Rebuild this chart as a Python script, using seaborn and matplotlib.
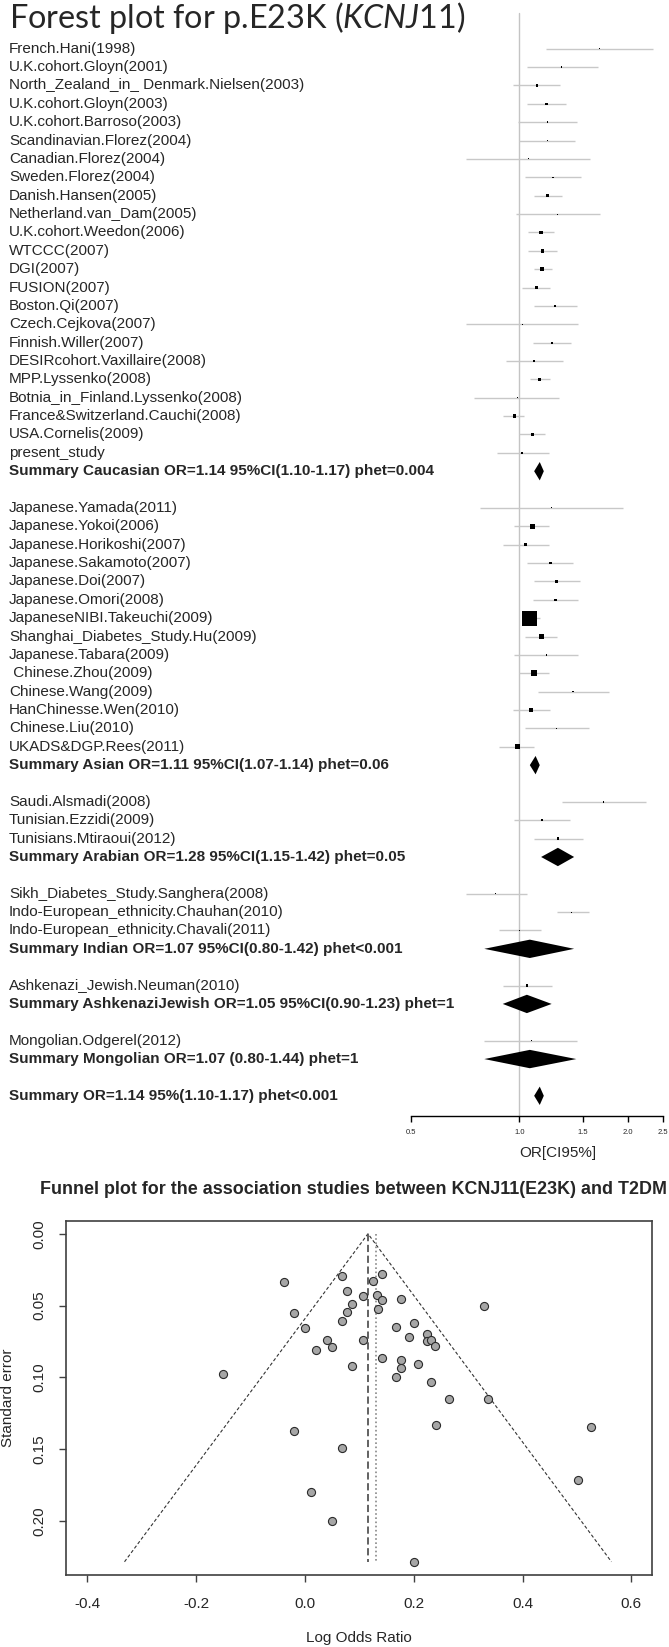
import matplotlib
matplotlib.use("Agg")
import matplotlib.pyplot as plt
import matplotlib.transforms as mtransforms
from matplotlib.ticker import NullLocator
import pandas as pd
import seaborn as sns

# ---------------- forest plot data ----------------
caucasian_names = ["French.Hani(1998)", "U.K.cohort.Gloyn(2001)", "North_Zealand_in_ Denmark.Nielsen(2003)",
                   "U.K.cohort.Gloyn(2003)", "U.K.cohort.Barroso(2003)", "Scandinavian.Florez(2004)",
                   "Canadian.Florez(2004)", "Sweden.Florez(2004)", "Danish.Hansen(2005)",
                   "Netherland.van_Dam(2005)", "U.K.cohort.Weedon(2006)", "WTCCC(2007)", "DGI(2007)",
                   "FUSION(2007)", "Boston.Qi(2007)", "Czech.Cejkova(2007)", "Finnish.Willer(2007)",
                   "DESIRcohort.Vaxillaire(2008)", "MPP.Lyssenko(2008)", "Botnia_in_Finland.Lyssenko(2008)",
                   "France&Switzerland.Cauchi(2008)", "USA.Cornelis(2009)", "present_study"]
caucasian_or = [1.67, 1.31, 1.12, 1.19, 1.20, 1.20, 1.06, 1.24, 1.20, 1.28, 1.15, 1.16, 1.16,
                1.12, 1.26, 1.02, 1.23, 1.10, 1.14, 0.99, 0.97, 1.09, 1.02]
caucasian_lo = [1.19, 1.05, 0.96, 1.05, 0.99, 1.00, 0.71, 1.04, 1.10, 0.98, 1.06, 1.06, 1.10,
                1.02, 1.10, 0.71, 1.09, 0.92, 1.07, 0.75, 0.90, 1.00, 0.87]
caucasian_hi = [2.35, 1.65, 1.30, 1.35, 1.45, 1.43, 1.57, 1.48, 1.31, 1.67, 1.25, 1.27, 1.23,
                1.22, 1.45, 1.46, 1.39, 1.32, 1.22, 1.29, 1.03, 1.18, 1.21]
caucasian_w = [2, 2, 6, 6, 2, 2, 1, 2, 9, 1, 12, 12, 16, 9, 4, 1, 4, 2, 12, 1, 12, 9, 4]

asian_names = ["Japanese.Yamada(2011)", "Japanese.Yokoi(2006)", "Japanese.Horikoshi(2007)",
               "Japanese.Sakamoto(2007)", "Japanese.Doi(2007)", "Japanese.Omori(2008)",
               "JapaneseNIBI.Takeuchi(2009)", "Shanghai_Diabetes_Study.Hu(2009)", "Japanese.Tabara(2009)",
               " Chinese.Zhou(2009)", "Chinese.Wang(2009)", "HanChinesse.Wen(2010)", "Chinese.Liu(2010)",
               "UKADS&DGP.Rees(2011)"]
asian_or = [1.23, 1.09, 1.04, 1.22, 1.27, 1.26, 1.07, 1.15, 1.19, 1.10, 1.41, 1.08, 1.27, 0.99]
asian_lo = [0.78, 0.97, 0.90, 1.05, 1.10, 1.09, 1.02, 1.04, 0.97, 1.00, 1.13, 0.96, 1.04, 0.88]
asian_hi = [1.94, 1.21, 1.21, 1.41, 1.47, 1.46, 1.14, 1.27, 1.46, 1.21, 1.77, 1.22, 1.56, 1.10]
asian_w = [1, 20, 9, 6, 6, 6, 225, 25, 2, 36, 2, 16, 2, 25]

arabian_names = ["Saudi.Alsmadi(2008)", "Tunisian.Ezzidi(2009)", "Tunisians.Mtiraoui(2012)"]
arabian_or = [1.71, 1.16, 1.28]
arabian_lo = [1.31, 0.97, 1.10]
arabian_hi = [2.24, 1.38, 1.50]
arabian_w = [2, 4, 6]

indian_names = ["Sikh_Diabetes_Study.Sanghera(2008)", "Indo-European_ethnicity.Chauhan(2010)",
                "Indo-European_ethnicity.Chavali(2011)"]
indian_or = [0.86, 1.40, 1.00]
indian_lo = [0.71, 1.27, 0.88]
indian_hi = [1.05, 1.56, 1.15]
indian_w = [1, 1, 1]

jewish_names = ["Ashkenazi_Jewish.Neuman(2010)"]
jewish_or = [1.05]
jewish_lo = [0.90]
jewish_hi = [1.23]
jewish_w = [6]

mongolian_names = ["Mongolian.Odgerel(2012)"]
mongolian_or = [1.08]
mongolian_lo = [0.80]
mongolian_hi = [1.45]
mongolian_w = [1]

summary_labels = ["Summary Caucasian OR=1.14 95%CI(1.10-1.17) phet=0.004",
                  "Summary Asian OR=1.11 95%CI(1.07-1.14) phet=0.06",
                  "Summary Arabian OR=1.28 95%CI(1.15-1.42) phet=0.05",
                  "Summary Indian OR=1.07 95%CI(0.80-1.42) phet<0.001",
                  "Summary AshkenaziJewish OR=1.05 95%CI(0.90-1.23) phet=1",
                  "Summary Mongolian OR=1.07 (0.80-1.44) phet=1"]
summary_or = [1.14, 1.11, 1.28, 1.07, 1.05, 1.07]
summary_lo = [1.10, 1.07, 1.15, 0.80, 0.90, 0.80]
summary_hi = [1.17, 1.14, 1.42, 1.42, 1.23, 1.44]
overall_label = "Summary OR=1.14 95%(1.10-1.17) phet<0.001"
overall_or, overall_lo, overall_hi = 1.14, 1.10, 1.17

or_ticks = [0.5, 1.0, 1.5, 2.0, 2.5]

# ---------------- funnel plot data ----------------
funnel_log_or = [-0.039, 0.069, 0.125, 0.141, 0.078, 0.106, 0.133, 0.141, 0.176, 0.087,
                 0.134, 0.330, -0.020, 0.078, 0.069, 0.001, 0.168, 0.200, 0.041, 0.106,
                 0.192, 0.224, 0.224, 0.231, 0.239, 0.020, 0.049, 0.141, 0.176, 0.176,
                 0.208, 0.087, -0.150, 0.167, 0.232, 0.264, 0.337, 0.241, 0.525, -0.020,
                 0.069, 0.502, 0.011, 0.049, 0.200]
funnel_se = [0.0333, 0.0296, 0.0328, 0.0277, 0.0395, 0.0432, 0.0423, 0.0464, 0.0453, 0.0490,
             0.0522, 0.0501, 0.0552, 0.0547, 0.0610, 0.0654, 0.0647, 0.0619, 0.0741, 0.0741,
             0.0721, 0.0695, 0.0748, 0.0741, 0.0778, 0.0808, 0.0785, 0.0866, 0.0882, 0.0935,
             0.0905, 0.0919, 0.0979, 0.0998, 0.1030, 0.1147, 0.1147, 0.1329, 0.1348, 0.1373,
             0.1493, 0.1717, 0.1798, 0.2001, 0.2283]
pooled_fixed = 0.116
pooled_random = 0.130
funnel_xticks = [-0.4, -0.2, 0.0, 0.2, 0.4, 0.6]
funnel_yticks = [0.00, 0.05, 0.10, 0.15, 0.20]

funnel_title = "Funnel plot for the association studies between KCNJ11(E23K) and T2DM"

# ---------------- build the forest table ----------------
groups = [
    (caucasian_names, caucasian_or, caucasian_lo, caucasian_hi, caucasian_w),
    (asian_names, asian_or, asian_lo, asian_hi, asian_w),
    (arabian_names, arabian_or, arabian_lo, arabian_hi, arabian_w),
    (indian_names, indian_or, indian_lo, indian_hi, indian_w),
    (jewish_names, jewish_or, jewish_lo, jewish_hi, jewish_w),
    (mongolian_names, mongolian_or, mongolian_lo, mongolian_hi, mongolian_w),
]

study_rows = []
summary_rows = []
row = 1
for (names, est, lo, hi, w), s_lab, s_or, s_lo, s_hi in zip(groups, summary_labels, summary_or,
                                                            summary_lo, summary_hi):
    for n, e, l, h, ww in zip(names, est, lo, hi, w):
        study_rows.append(dict(label=n, row=row, est=e, lo=l, hi=h, weight=ww))
        row += 1
    summary_rows.append(dict(label=s_lab, row=row, est=s_or, lo=s_lo, hi=s_hi))
    row += 2  # blank line between the groups
summary_rows.append(dict(label=overall_label, row=row, est=overall_or, lo=overall_lo, hi=overall_hi))

studies = pd.DataFrame(study_rows)
summaries = pd.DataFrame(summary_rows)

# ---------------- figure ----------------
sns.set_theme(style="white")
plt.rcParams['font.family'] = ['Liberation Sans', 'DejaVu Sans']
plt.rcParams['mathtext.fontset'] = 'custom'
plt.rcParams['mathtext.rm'] = 'Lato'
plt.rcParams['mathtext.it'] = 'Lato:italic'

W, H = 669, 1647
fig = plt.figure(figsize=(W / 100, H / 100), dpi=100)


def px_box(left, top, right, bottom):
    return [left / W, 1 - bottom / H, (right - left) / W, (bottom - top) / H]


def fit_width(txt, target_px):
    # scale the font so the text spans target_px pixels
    fig.canvas.draw()
    bb = txt.get_window_extent(fig.canvas.get_renderer())
    txt.set_fontsize(txt.get_fontsize() * target_px / bb.width)


# forest plot
row_h = 18.37
first_row = 48.7
ax = fig.add_axes(px_box(410.7, 0, 662.7, 1116))
ax.set_xscale('log')

ax.plot([1, 1], [-0.94, 60], color='#c4c4c4', lw=1, zorder=1)
ax.hlines(studies['row'], studies['lo'], studies['hi'], color='#c8c8c8', lw=1, zorder=2)
sns.scatterplot(data=studies, x='est', y='row', marker='s', s=studies['weight'] * 0.52,
                color='black', linewidth=0, ax=ax, zorder=3)
for _, r in summaries.iterrows():
    ax.fill([r['lo'], r['est'], r['hi'], r['est']],
            [r['row'], r['row'] - 0.5, r['row'], r['row'] + 0.5], color='black', lw=0, zorder=3)

ax.set_xlim(0.5, 2.5)
ax.set_ylim(1 + (1116 - first_row) / row_h, 1 - first_row / row_h)
ax.set_xlabel('')
ax.set_ylabel('')
ax.set_xticks(or_ticks, labels=[f"{t:.1f}" for t in or_ticks])
ax.xaxis.set_minor_locator(NullLocator())
ax.set_yticks([])
for side in ['top', 'left', 'right']:
    ax.spines[side].set_visible(False)
ax.spines['bottom'].set_bounds(0.5, 2.5)
ax.spines['bottom'].set_color('black')
ax.spines['bottom'].set_linewidth(1)
ax.tick_params(axis='x', direction='out', length=4, width=1, pad=5, labelsize=5.5,
               color='black', bottom=True)

trans = mtransforms.blended_transform_factory(fig.transFigure, ax.transData)
for _, r in studies.iterrows():
    ax.text(9 / W, r['row'], r['label'], transform=trans, ha='left', va='center', fontsize=11)
for _, r in summaries.iterrows():
    ax.text(9 / W, r['row'], r['label'], transform=trans, ha='left', va='center', fontsize=11,
            fontweight='bold')

fig.text(558 / W, 1 - 1153 / H, "OR[CI95%]", ha='center', va='center', fontsize=11)
forest_title = fig.text(9 / W, 1 - 28.5 / H, r"Forest plot for p.E23K ($\mathit{KCNJ11}$)",
                        ha='left', va='baseline', fontsize=23, family='Lato')

# funnel plot
bx = fig.add_axes(px_box(66, 1220.7, 652, 1575))
se_max = max(funnel_se)
bx.plot([pooled_fixed - 1.96 * se_max, pooled_fixed, pooled_fixed + 1.96 * se_max],
        [se_max, 0, se_max], ls=(0, (3, 2)), color='#333333', lw=0.8)
bx.plot([pooled_fixed, pooled_fixed], [0, se_max], ls=(0, (4, 2)), color='#555555', lw=1.3)
bx.plot([pooled_random, pooled_random], [0, se_max], ls=(0, (1, 1.5)), color='#888888', lw=1.2)
sns.scatterplot(x=funnel_log_or, y=funnel_se, ax=bx, s=34, color='#a6a6a6',
                edgecolor='#2b2b2b', linewidth=0.8, zorder=3)

bx.set_xlim(-0.439, 0.638)
bx.set_ylim(0.2375, -0.0091)
bx.set_xticks(funnel_xticks, labels=[f"{v:.1f}" for v in funnel_xticks])
bx.set_yticks(funnel_yticks, labels=[f"{v:.2f}" for v in funnel_yticks])
for lab in bx.get_yticklabels():
    lab.set_rotation(90)
    lab.set_va('center')
for side in bx.spines.values():
    side.set_visible(True)
    side.set_color('#404040')
    side.set_linewidth(1.2)
bx.tick_params(direction='out', length=5, width=1, labelsize=11, color='#404040',
               left=True, bottom=True)
bx.tick_params(axis='x', pad=11)
bx.tick_params(axis='y', pad=9)

funnel_head = fig.text(353 / W, 1 - 1189 / H, funnel_title, ha='center', va='center',
                       fontsize=12.8, fontweight='bold')
fig.text(359 / W, 1 - 1637.7 / H, "Log Odds Ratio", ha='center', va='center', fontsize=11)
fig.text(8.5 / W, 1 - 1398 / H, "Standard error", ha='center', va='center', rotation=90,
         fontsize=11)

fit_width(forest_title, 458)
fit_width(funnel_head, 622)

fig.savefig("out.png", dpi=100)
